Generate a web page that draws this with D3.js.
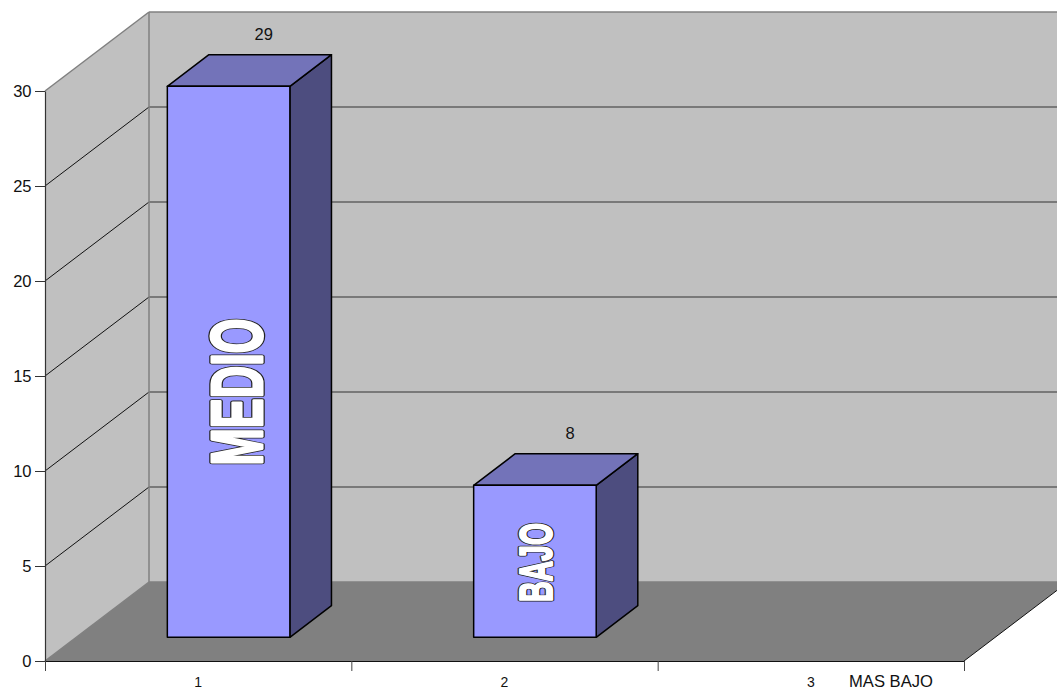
<!DOCTYPE html>
<html><head><meta charset="utf-8">
<script src="https://cdn.jsdelivr.net/npm/d3@7"></script>
<style>html,body{margin:0;padding:0;background:#fff;overflow:hidden}svg{display:block}text{font-family:"Liberation Sans",Arial,sans-serif;fill:#111}</style>
</head><body><svg id="c" width="1057" height="690"></svg>
<script>
const categories = ["1","2","3"];
const values = [29, 8, null];
const barLabels = ["MEDIO","BAJO",null];
const yTicks = [0,5,10,15,20,25,30];
const seriesLabel = "MAS BAJO";

const svg = d3.select("#c");
const x = d3.scaleLinear().domain([0,3]).range([45,964]);
const y = d3.scaleLinear().domain([0,30]).range([661,91]);
const zx = d3.scaleLinear().domain([0,1]).range([0,104]);
const zy = d3.scaleLinear().domain([0,1]).range([0,-79]);
const P = (cx,v,z)=>[x(cx)+zx(z), y(v)+zy(z)];
const poly = pts => "M"+pts.map(p=>p.join(",")).join("L")+"Z";
const line = (a,b)=>"M"+a.join(",")+"L"+b.join(",");

const GR="#808080";
svg.append("path").attr("d",poly([P(0,0,1),P(3,0,1),P(3,30,1),P(0,30,1)])).attr("fill","#c0c0c0");
svg.append("path").attr("d",poly([P(0,0,0),P(0,0,1),P(0,30,1),P(0,30,0)])).attr("fill","#c0c0c0");
svg.append("path").attr("d",poly([P(0,0,0),P(3,0,0),P(3,0,1),P(0,0,1)])).attr("fill",GR);
yTicks.filter(t=>t>0&&t<30).forEach(t=>{
  svg.append("path").attr("d",line(P(0,t,0),P(0,t,1))).attr("stroke","#111").attr("stroke-width",1).attr("fill","none");
  svg.append("path").attr("d",line(P(0,t,1),P(3,t,1))).attr("stroke","#333").attr("stroke-width",1).attr("fill","none");
});
[[P(0,30,0),P(0,30,1)],[P(0,30,1),P(3,30,1)],[P(0,30,1),P(0,0,1)],[P(0,0,0),P(0,0,1)],[P(0,0,1),P(3,0,1)]].forEach(s=>{
  svg.append("path").attr("d",line(s[0],s[1])).attr("stroke",GR).attr("stroke-width",1.5).attr("fill","none");
});
svg.append("path").attr("d",line(P(3,0,0),P(3,0,1))).attr("stroke","#111").attr("stroke-width",1).attr("fill","none");

const gy = svg.append("g").attr("transform",`translate(${x(0)},0)`).call(d3.axisLeft(y).tickValues(yTicks).tickSize(10).tickSizeOuter(0).tickPadding(3.5));
gy.select(".domain").attr("stroke","#333").attr("stroke-width",1.2);
gy.selectAll("line").attr("stroke","#333");
gy.selectAll("text").attr("font-size",16.5).style("fill","#111");
const gx = svg.append("g").attr("transform",`translate(0,${y(0)})`).call(d3.axisBottom(x).tickValues(d3.range(0,4)).tickFormat("").tickSize(10).tickSizeOuter(0));
gx.select(".domain").attr("stroke","#111").attr("stroke-width",1.2);
gx.selectAll("line").attr("stroke","#444");

categories.forEach((c,i)=>{
  svg.append("text").attr("x",x(i+0.5)).attr("y",y(0)+25.5).attr("text-anchor","middle").attr("font-size",14).text(c);
});
svg.append("text").attr("x",891).attr("y",686.5).attr("text-anchor","middle").attr("font-size",16.6).text(seriesLabel);

const f0=.2975, f1=.6975, z0=.30, z1=.70;
values.forEach((v,i)=>{
  if(v==null) return;
  const a=P(i+f0,0,z0), b=P(i+f1,0,z0), c=P(i+f1,v,z0), d=P(i+f0,v,z0);
  const b2=P(i+f1,0,z1), c2=P(i+f1,v,z1), d2=P(i+f0,v,z1);
  const st=g=>g.attr("stroke","#000").attr("stroke-width",1.5).attr("stroke-linejoin","round");
  svg.append("path").attr("d",poly([b,b2,c2,c])).attr("fill","#4d4d7f").call(st);
  svg.append("path").attr("d",poly([d,c,c2,d2])).attr("fill","#7373b9").call(st);
  svg.append("path").attr("d",poly([a,b,c,d])).attr("fill","#9999ff").call(st);
  svg.append("text").attr("x",(d2[0]+c2[0])/2-6.5).attr("y",d2[1]-15).attr("text-anchor","middle").attr("font-size",16.5).text(v);
});

const art=[{i:0,cx:261.5,cy:392,fs:72,len:147,o:5.5,n:3},{i:1,cx:552,cy:562.5,fs:47,len:79,o:4.5,n:2.2}];
art.forEach(o=>{
  const t=(stroke,w)=>svg.append("text").attr("transform",`translate(${o.cx},${o.cy}) rotate(-90)`)
    .attr("text-anchor","middle").attr("font-weight","bold").attr("font-size",o.fs)
    .attr("textLength",o.len).attr("lengthAdjust","spacingAndGlyphs").attr("stroke-linejoin","round")
    .style("fill","#fff").attr("stroke",stroke).attr("stroke-width",w).text(barLabels[o.i]);
  t("#222",o.o);
  t("#fff",o.n);
});
</script></body></html>
